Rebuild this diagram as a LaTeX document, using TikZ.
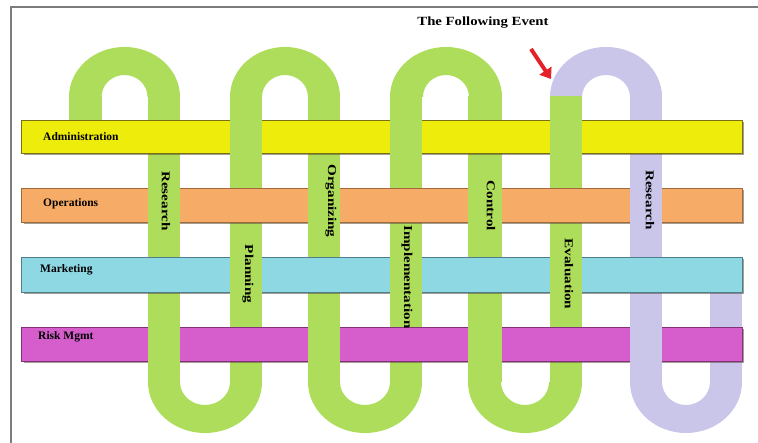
\documentclass[tikz,border=0pt]{standalone}
\usepackage{fontspec}
\setmainfont{Liberation Serif}
\usepackage{graphicx}
\usetikzlibrary{arrows.meta}
\definecolor{tubegreen}{RGB}{174,221,92}
\definecolor{tubepurple}{RGB}{202,198,234}
\definecolor{baryellow}{RGB}{238,236,10}
\definecolor{baryellowdk}{RGB}{120,112,20}
\definecolor{barorange}{RGB}{246,172,102}
\definecolor{barorangedk}{RGB}{160,105,60}
\definecolor{barcyan}{RGB}{142,216,228}
\definecolor{barcyandk}{RGB}{80,125,140}
\definecolor{barmagenta}{RGB}{214,94,204}
\definecolor{barmagentadk}{RGB}{130,50,120}
\definecolor{arrowred}{RGB}{228,32,40}
\definecolor{framegray}{RGB}{125,125,125}
\definecolor{shadowgray}{RGB}{90,80,60}
% arch at the top: colour, centre x, outer x radius, inner x radius
\newcommand{\myarch}[4]{\fill[#1] (#2-#3,346) arc[start angle=180,end angle=0,x radius=#3pt,y radius=50pt] -- (#2+#4,346) arc[start angle=0,end angle=180,x radius=#4pt,y radius=22pt] -- cycle;}
% U at the bottom
\newcommand{\myU}[4]{\fill[#1] (#2-#3,61) arc[start angle=180,end angle=360,x radius=#3pt,y radius=51pt] -- (#2+#4,61) arc[start angle=0,end angle=-180,x radius=#4pt,y radius=23pt] -- cycle;}
\tikzset{
  bartext/.style={anchor=west, inner sep=0pt, font=\fontsize{11.5}{12}\selectfont\bfseries},
  legtext/.style={rotate=-90, inner sep=0pt, font=\fontsize{12}{12}\selectfont\bfseries},
  barbox/.style={line width=0.8pt},
  barshadow/.style={fill=shadowgray, fill opacity=0.55},
}
\newcommand{\legstr}[1]{\scalebox{1.26}[1]{#1}}
\begin{document}
\begin{tikzpicture}[x=1pt,y=1pt]
\useasboundingbox (0,0) rectangle (758,443);
\fill[white] (0,0) rectangle (758,443);

% ---- tube: arches ----
\myarch{tubegreen}{124.5}{55.5}{23}
\myarch{tubegreen}{285}{55}{23}
\myarch{tubegreen}{446}{56}{23}
\myarch{tubepurple}{606}{56}{24}
% ---- tube: bottom U's ----
\myU{tubegreen}{205}{57}{25}
\myU{tubegreen}{365}{57}{25}
\myU{tubegreen}{525}{57}{24}
\myU{tubepurple}{686}{56}{24}
% ---- tube: legs ----
\fill[tubegreen] (69,300) rectangle (102,346.5);
\fill[tubegreen] (148,60.5) rectangle (180,346.5);
\fill[tubegreen] (230,60.5) rectangle (262,346.5);
\fill[tubegreen] (308,60.5) rectangle (340,346.5);
\fill[tubegreen] (390,60.5) rectangle (422,346.5);
\fill[tubegreen] (468,60.5) rectangle (502,346.5);
\fill[tubegreen] (550,60.5) rectangle (582,346.5);
\fill[tubepurple] (630,60.5) rectangle (662,346.5);
\fill[tubepurple] (710,60.5) rectangle (742,170);

% ---- bar shadows ----
\fill[barshadow] (24,288.3) rectangle (743.6,321);
\fill[barshadow] (24,219.3) rectangle (743.6,253);
\fill[barshadow] (24,149.3) rectangle (743.6,184);
\fill[barshadow] (24,80.3) rectangle (743.6,114);
% ---- bars ----
\filldraw[barbox, fill=baryellow, draw=baryellowdk] (21,290) rectangle (742,323);
\filldraw[barbox, fill=barorange, draw=barorangedk] (21,221) rectangle (742,255);
\filldraw[barbox, fill=barcyan, draw=barcyandk] (21,151) rectangle (742,186);
\filldraw[barbox, fill=barmagenta, draw=barmagentadk] (21,82) rectangle (742,116);

% ---- legs passing over bars ----
% odd legs over yellow and cyan
\fill[tubegreen] (230,287.5) rectangle (262,324);
\fill[tubegreen] (390,287.5) rectangle (422,324);
\fill[tubegreen] (550,287.5) rectangle (582,324);
\fill[tubegreen] (230,148.5) rectangle (262,187);
\fill[tubegreen] (390,148.5) rectangle (422,187);
\fill[tubegreen] (550,148.5) rectangle (582,187);
% even legs over orange and magenta
\fill[tubegreen] (148,218.5) rectangle (180,256);
\fill[tubegreen] (308,218.5) rectangle (340,256);
\fill[tubegreen] (468,218.5) rectangle (502,256);
\fill[tubepurple] (630,218.5) rectangle (662,256);
\fill[tubegreen] (148,79.5) rectangle (180,117);
\fill[tubegreen] (308,79.5) rectangle (340,117);
\fill[tubegreen] (468,79.5) rectangle (502,117);
\fill[tubepurple] (630,79.5) rectangle (662,117);

% ---- leg labels ----
\node[legtext] (research1) at (166,242) {\legstr{Research}};
\node[legtext] (planning) at (248,169) {\legstr{Planning}};
\node[legtext] (organizing) at (331,242) {\legstr{Organizing}};
\node[legtext] (implementation) at (407,166) {\legstr{Implementation}};
\node[legtext] (control) at (491,237) {\legstr{Control}};
\node[legtext] (evaluation) at (569,169) {\legstr{Evaluation}};
\node[legtext] (research2) at (650,243) {\legstr{Research}};

% ---- bar labels ----
\node[bartext] (admin) at (43,306.5) {Administration};
\node[bartext] (ops) at (43,239) {Operations};
\node[bartext] (mkt) at (40,173) {Marketing};
\node[bartext] (risk) at (38,106) {Risk Mgmt};

% ---- title and arrow ----
\node[inner sep=0pt, font=\fontsize{12.5}{13}\selectfont\bfseries] (title) at (483,420) {\scalebox{1.18}[1]{The Following Event}};
\coordinate (arrowtail) at (531,394);
\coordinate (arrowtip) at (551,364);
\draw[arrowred, line width=4pt, -{Triangle[length=10pt,width=14pt]}] (arrowtail) -- (arrowtip);

% ---- frame ----
\draw[framegray, line width=1.5pt] (11,0) -- (11,436) -- (758,436);
\end{tikzpicture}
\end{document}
